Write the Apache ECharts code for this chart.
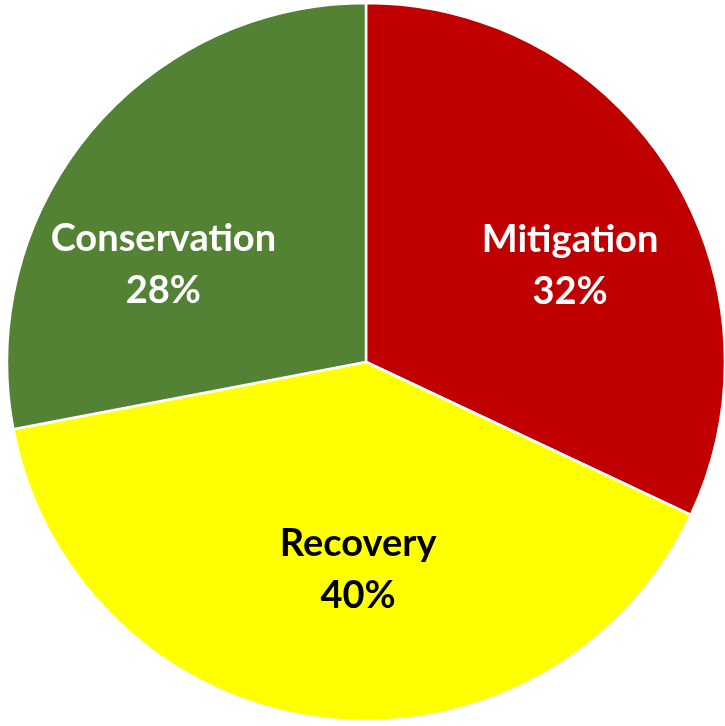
<!DOCTYPE html>
<html>
<head>
<meta charset="utf-8">
<script src="https://cdn.jsdelivr.net/npm/echarts@6/dist/echarts.min.js"></script>
<style>
  html, body { margin: 0; padding: 0; background: #ffffff; }
  #chart { width: 725px; height: 726px; }
</style>
</head>
<body>
<div id="chart"></div>
<script>
// Share of effort by category, clockwise from 12 o'clock
const categories = ['Mitigation', 'Recovery', 'Conservation'];
const shares = [32, 40, 28];
const sliceColors = ['#C00000', '#FFFF00', '#548235'];
const labelColors = ['#ffffff', '#000000', '#ffffff'];
// nudges the inside labels away from the default half-radius spot
const labelOffsets = [[50, 2], [15, 27], [-62, 19]];

const chart = echarts.init(document.getElementById('chart'), null, { renderer: 'canvas' });

const data = categories.map((name, i) => ({
  name: name,
  value: shares[i],
  itemStyle: { color: sliceColors[i] },
  label: { color: labelColors[i], offset: labelOffsets[i] }
}));

chart.setOption({
  backgroundColor: '#ffffff',
  animation: false,
  series: [{
    type: 'pie',
    center: [366, 362],
    radius: [0, 359],
    startAngle: 90,
    clockwise: true,
    data: data,
    itemStyle: { borderColor: '#ffffff', borderWidth: 2.5 },
    label: {
      show: true,
      position: 'inside',
      formatter: '{b}\n{d}%',
      fontFamily: 'Lato',
      fontWeight: 'bold',
      fontSize: 38,
      lineHeight: 52,
      align: 'center'
    },
    labelLine: { show: false },
    emphasis: { disabled: true }
  }]
});
</script>
</body>
</html>
